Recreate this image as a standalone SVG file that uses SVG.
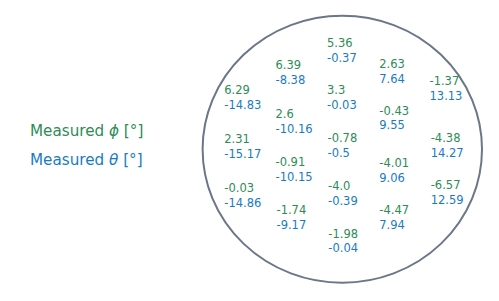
<svg xmlns="http://www.w3.org/2000/svg" width="499" height="301" viewBox="0 0 499 301">
<style>
text{font-family:"DejaVu Sans","Liberation Sans",sans-serif;}
.n{font-size:11.5px;}
.g{fill:#2e8b57;}
.b{fill:#1a7bc2;}
.lg{font-size:15.2px;}
.m{font-style:italic;}
</style>
<rect width="499" height="301" fill="#ffffff"/>
<g id="boundary">
<ellipse cx="342.3" cy="149.2" rx="139.7" ry="133.5" fill="none" stroke="#6b7789" stroke-width="2"/>
</g>
<g id="legend">
<text class="lg g" x="30" y="135.7">Measured <tspan class="m">ϕ</tspan> [°]</text>
<text class="lg b" x="30" y="165">Measured <tspan class="m">θ</tspan> [°]</text>
</g>
<g id="values" class="n">
<g id="p1"><text class="g" x="224.3" y="94.3">6.29</text><text class="b" x="224.3" y="109.2">-14.83</text></g>
<g id="p2"><text class="g" x="224.3" y="142.7">2.31</text><text class="b" x="224.3" y="157.6">-15.17</text></g>
<g id="p3"><text class="g" x="224.3" y="191.7">-0.03</text><text class="b" x="224.3" y="206.6">-14.86</text></g>
<g id="p4"><text class="g" x="275.5" y="69.3">6.39</text><text class="b" x="275.5" y="84.2">-8.38</text></g>
<g id="p5"><text class="g" x="275.5" y="118.3">2.6</text><text class="b" x="275.5" y="133.2">-10.16</text></g>
<g id="p6"><text class="g" x="275.5" y="166">-0.91</text><text class="b" x="275.5" y="180.9">-10.15</text></g>
<g id="p7"><text class="g" x="276.5" y="214.3">-1.74</text><text class="b" x="276.5" y="229.2">-9.17</text></g>
<g id="p8"><text class="g" x="327" y="46.7">5.36</text><text class="b" x="327" y="61.6">-0.37</text></g>
<g id="p9"><text class="g" x="327" y="94.3">3.3</text><text class="b" x="327" y="109.2">-0.03</text></g>
<g id="p10"><text class="g" x="327.5" y="142.2">-0.78</text><text class="b" x="327.5" y="157.1">-0.5</text></g>
<g id="p11"><text class="g" x="328" y="190">-4.0</text><text class="b" x="328" y="204.9">-0.39</text></g>
<g id="p12"><text class="g" x="328.3" y="237.5">-1.98</text><text class="b" x="328.3" y="252.4">-0.04</text></g>
<g id="p13"><text class="g" x="379.3" y="67.7">2.63</text><text class="b" x="379.3" y="82.6">7.64</text></g>
<g id="p14"><text class="g" x="379.3" y="114.5">-0.43</text><text class="b" x="379.3" y="129.4">9.55</text></g>
<g id="p15"><text class="g" x="379.3" y="166.7">-4.01</text><text class="b" x="379.3" y="181.6">9.06</text></g>
<g id="p16"><text class="g" x="379.3" y="214.3">-4.47</text><text class="b" x="379.3" y="229.2">7.94</text></g>
<g id="p17"><text class="g" x="429.5" y="85">-1.37</text><text class="b" x="429.5" y="99.9">13.13</text></g>
<g id="p18"><text class="g" x="430.7" y="142">-4.38</text><text class="b" x="430.7" y="156.9">14.27</text></g>
<g id="p19"><text class="g" x="430.7" y="189.3">-6.57</text><text class="b" x="430.7" y="204.2">12.59</text></g>
</g>
</svg>
